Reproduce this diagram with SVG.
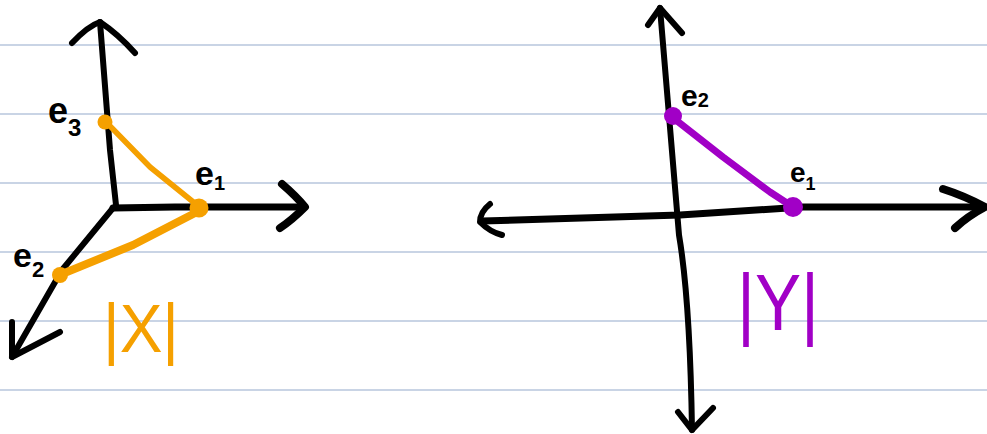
<svg xmlns="http://www.w3.org/2000/svg" width="987" height="434" viewBox="0 0 987 434">
<style>
.rule{stroke:#b7c6dd;stroke-width:1.5}
.ax{fill:none;stroke:#000;stroke-width:6;stroke-linecap:round;stroke-linejoin:round}
.or{fill:none;stroke:#f5a000;stroke-linecap:round;stroke-linejoin:round}
.pu{fill:none;stroke:#a100c6;stroke-linecap:round;stroke-linejoin:round}
.lbl{font-family:"Liberation Sans",Arial,sans-serif;font-weight:bold;fill:#000}
.big{font-family:"Liberation Sans",Arial,sans-serif}
</style>
<rect width="987" height="434" fill="#fff"/>
<g id="ruled-lines">
<line class="rule" x1="0" y1="45" x2="987" y2="45"/>
<line class="rule" x1="0" y1="114" x2="987" y2="114"/>
<line class="rule" x1="0" y1="183" x2="987" y2="183"/>
<line class="rule" x1="0" y1="252" x2="987" y2="252"/>
<line class="rule" x1="0" y1="321" x2="987" y2="321"/>
<line class="rule" x1="0" y1="390" x2="987" y2="390"/>
</g>
<g id="connectors">
<!-- left axes -->
<path class="ax" d="M116,205 L110,150 L100,22"/>
<path class="ax" d="M72,43 Q88,26 100,22 Q118,34 135,53"/>
<path class="ax" d="M113,208 L175,207 L240,207 L303,207" style="stroke-width:7"/>
<path class="ax" d="M282,184 Q296,196 305,207 Q292,220 280,228" style="stroke-width:8"/>
<path class="ax" d="M113,208 L62,270 L12,357"/>
<path class="ax" d="M12,322 L12,357 L60,332"/>
<!-- orange triangle -->
<path class="or" d="M108,124 L150,167 L197,205" style="stroke-width:5.5"/>
<path class="or" d="M197,212 L133,245 L62,274" style="stroke-width:8"/>
<!-- right axes -->
<path class="ax" d="M660,8 Q672,150 679,235 Q690,300 692,430"/>
<path class="ax" d="M648,25 L660,8 L682,33"/>
<path class="ax" d="M678,412 L692,430 L713,408"/>
<path class="ax" d="M482,221 L680,215 L803,207 L985,207" style="stroke-width:7"/>
<path class="ax" d="M490,204 Q480,212 480,222 Q490,232 502,235"/>
<path class="ax" d="M943,189 Q965,196 985,207 Q968,216 955,228" style="stroke-width:8"/>
<!-- purple edge -->
<path class="pu" d="M672,117 L723,157 L770,192 L793,207" style="stroke-width:7"/>
</g>
<g id="node-e3">
<circle cx="105" cy="122" r="7.5" fill="#f5a000"/>
<text class="lbl" x="48" y="123" font-size="36">e<tspan font-size="24" dy="13">3</tspan></text>
</g>
<g id="node-e1-x">
<circle cx="199" cy="208" r="9.5" fill="#f5a000"/>
<text class="lbl" x="195" y="185" font-size="34">e<tspan font-size="20" dy="5">1</tspan></text>
</g>
<g id="node-e2-x">
<circle cx="60" cy="275" r="8" fill="#f5a000"/>
<text class="lbl" x="13" y="267" font-size="34">e<tspan font-size="22" dy="10">2</tspan></text>
</g>
<g id="label-x">
<text class="big" x="103" y="352" font-size="68" fill="#f5a000" textLength="76" lengthAdjust="spacingAndGlyphs">|X|</text>
</g>
<g id="node-e2-y">
<circle cx="673" cy="116" r="9" fill="#a100c6"/>
<text class="lbl" x="681" y="106" font-size="30">e<tspan font-size="20" dy="1">2</tspan></text>
</g>
<g id="node-e1-y">
<circle cx="793" cy="207" r="10" fill="#a100c6"/>
<text class="lbl" x="790" y="182" font-size="28">e<tspan font-size="18" dy="8">1</tspan></text>
</g>
<g id="label-y">
<text class="big" x="737" y="330" font-size="80" fill="#a100c6" textLength="82" lengthAdjust="spacingAndGlyphs">|Y|</text>
</g>
</svg>
